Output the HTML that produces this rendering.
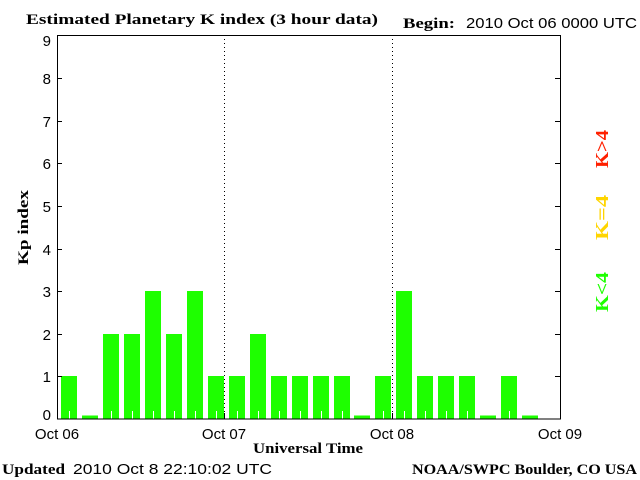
<!DOCTYPE html>
<html><head><meta charset="utf-8"><style>
html,body{margin:0;padding:0;background:#fff;}
svg{display:block;}
.s{font-family:"Liberation Sans",sans-serif;font-size:15px;fill:#000;}
.b{font-family:"Liberation Serif",serif;font-weight:bold;font-size:15px;fill:#000;}
</style></head><body>
<svg width="640" height="480" xmlns="http://www.w3.org/2000/svg">
<rect width="640" height="480" fill="#fff"/>
<text class="b" x="26" y="24" textLength="352" lengthAdjust="spacingAndGlyphs">Estimated Planetary K index (3 hour data)</text>
<text class="b" x="403" y="28" textLength="52" lengthAdjust="spacingAndGlyphs">Begin:</text>
<text class="s" x="466" y="28" textLength="171" lengthAdjust="spacingAndGlyphs">2010 Oct 06 0000 UTC</text>
<g fill="#1eff00">
<rect x="61" y="376" width="16" height="43"/>
<rect x="82" y="415.5" width="16" height="3.5"/>
<rect x="103" y="334" width="16" height="85"/>
<rect x="124" y="334" width="16" height="85"/>
<rect x="145" y="291" width="16" height="128"/>
<rect x="166" y="334" width="16" height="85"/>
<rect x="187" y="291" width="16" height="128"/>
<rect x="208" y="376" width="16" height="43"/>
<rect x="229" y="376" width="16" height="43"/>
<rect x="250" y="334" width="16" height="85"/>
<rect x="271" y="376" width="16" height="43"/>
<rect x="292" y="376" width="16" height="43"/>
<rect x="313" y="376" width="16" height="43"/>
<rect x="334" y="376" width="16" height="43"/>
<rect x="354" y="415.5" width="16" height="3.5"/>
<rect x="375" y="376" width="16" height="43"/>
<rect x="396" y="291" width="16" height="128"/>
<rect x="417" y="376" width="16" height="43"/>
<rect x="438" y="376" width="16" height="43"/>
<rect x="459" y="376" width="16" height="43"/>
<rect x="480" y="415.5" width="16" height="3.5"/>
<rect x="501" y="376" width="16" height="43"/>
<rect x="522" y="415.5" width="16" height="3.5"/>
</g>
<g fill="#fff">
<rect x="69" y="411" width="1" height="8"/>
<rect x="111" y="411" width="1" height="8"/>
<rect x="132" y="411" width="1" height="8"/>
<rect x="153" y="411" width="1" height="8"/>
<rect x="174" y="411" width="1" height="8"/>
<rect x="195" y="411" width="1" height="8"/>
<rect x="216" y="411" width="1" height="8"/>
<rect x="237" y="411" width="1" height="8"/>
<rect x="258" y="411" width="1" height="8"/>
<rect x="279" y="411" width="1" height="8"/>
<rect x="300" y="411" width="1" height="8"/>
<rect x="321" y="411" width="1" height="8"/>
<rect x="342" y="411" width="1" height="8"/>
<rect x="383" y="411" width="1" height="8"/>
<rect x="404" y="411" width="1" height="8"/>
<rect x="425" y="411" width="1" height="8"/>
<rect x="446" y="411" width="1" height="8"/>
<rect x="467" y="411" width="1" height="8"/>
<rect x="509" y="411" width="1" height="8"/>
</g>
<line x1="224.5" y1="35" x2="224.5" y2="413" stroke="#000" stroke-dasharray="1,3"/>
<line x1="392.5" y1="35" x2="392.5" y2="413" stroke="#000" stroke-dasharray="1,3"/>
<line x1="224.5" y1="413" x2="224.5" y2="419" stroke="#000"/>
<line x1="392.5" y1="413" x2="392.5" y2="419" stroke="#000"/>
<rect x="57.5" y="35.5" width="503" height="383.5" fill="none" stroke="#000"/>
<g stroke="#000">
<line x1="57" y1="376.5" x2="62" y2="376.5"/><line x1="555" y1="376.5" x2="560" y2="376.5"/>
<line x1="57" y1="334.5" x2="62" y2="334.5"/><line x1="555" y1="334.5" x2="560" y2="334.5"/>
<line x1="57" y1="291.5" x2="62" y2="291.5"/><line x1="555" y1="291.5" x2="560" y2="291.5"/>
<line x1="57" y1="249.5" x2="62" y2="249.5"/><line x1="555" y1="249.5" x2="560" y2="249.5"/>
<line x1="57" y1="206.5" x2="62" y2="206.5"/><line x1="555" y1="206.5" x2="560" y2="206.5"/>
<line x1="57" y1="163.5" x2="62" y2="163.5"/><line x1="555" y1="163.5" x2="560" y2="163.5"/>
<line x1="57" y1="121.5" x2="62" y2="121.5"/><line x1="555" y1="121.5" x2="560" y2="121.5"/>
<line x1="57" y1="78.5" x2="62" y2="78.5"/><line x1="555" y1="78.5" x2="560" y2="78.5"/>
</g>
<g class="s" text-anchor="end">
<text x="51" y="420">0</text>
<text x="51" y="382">1</text>
<text x="51" y="340">2</text>
<text x="51" y="297">3</text>
<text x="51" y="255">4</text>
<text x="51" y="212">5</text>
<text x="51" y="169">6</text>
<text x="51" y="127">7</text>
<text x="51" y="84">8</text>
<text x="51" y="46">9</text>
</g>
<text class="s" x="57" y="439" text-anchor="middle">Oct 06</text>
<text class="s" x="224" y="439" text-anchor="middle">Oct 07</text>
<text class="s" x="392" y="439" text-anchor="middle">Oct 08</text>
<text class="s" x="560" y="439" text-anchor="middle">Oct 09</text>
<text class="b" x="253" y="453" textLength="110" lengthAdjust="spacingAndGlyphs">Universal Time</text>
<text class="b" transform="translate(28,265) rotate(-90)" textLength="75" lengthAdjust="spacingAndGlyphs">Kp index</text>
<text class="b" x="2" y="474" textLength="63" lengthAdjust="spacingAndGlyphs">Updated</text>
<text class="s" x="73" y="474" textLength="199" lengthAdjust="spacingAndGlyphs">2010 Oct  8 22:10:02 UTC</text>
<text class="b" x="412" y="474" textLength="225" lengthAdjust="spacingAndGlyphs">NOAA/SWPC Boulder, CO USA</text>
<text class="b" transform="translate(608,168) rotate(-90)" textLength="38" lengthAdjust="spacingAndGlyphs" style="fill:#ff2000;font-size:18px">K&gt;4</text>
<text class="b" transform="translate(608,240) rotate(-90)" textLength="45" lengthAdjust="spacingAndGlyphs" style="fill:#ffd500;font-size:18px">K=4</text>
<text class="b" transform="translate(608,312) rotate(-90)" textLength="40" lengthAdjust="spacingAndGlyphs" style="fill:#1eff00;font-size:18px">K&lt;4</text>
</svg>
</body></html>
